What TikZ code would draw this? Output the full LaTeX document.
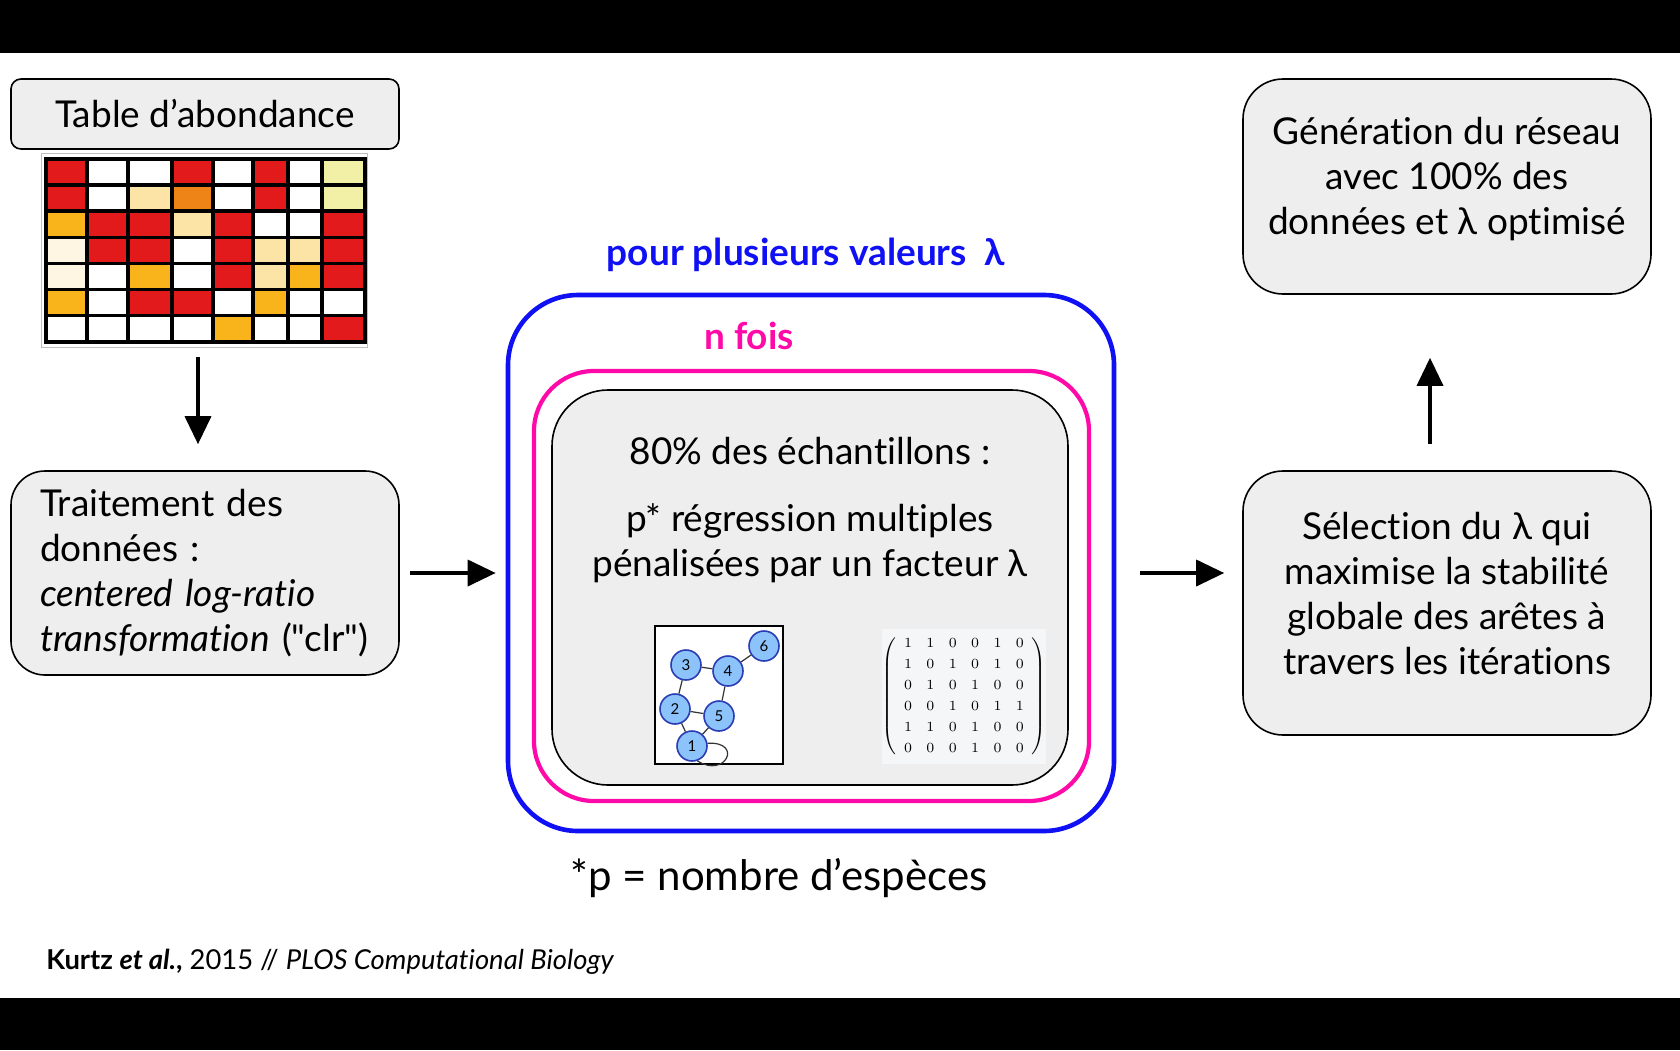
\documentclass[tikz,border=0pt]{standalone}
\usepackage{amsmath}
\usepackage[no-math]{fontspec}
\setmainfont{Lato}[Ligatures={TeXOff,NoCommon}]
\usepackage{tikz}
\usetikzlibrary{positioning}
\usetikzlibrary{arrows.meta}

\definecolor{boxgrey}{HTML}{EEEEEE}
\definecolor{loopblue}{HTML}{1010F5}
\definecolor{loopmagenta}{HTML}{FF0AA8}
\definecolor{hmr}{HTML}{E31A1C}
\definecolor{hmw}{HTML}{FFFFFF}
\definecolor{hmo}{HTML}{EE8418}
\definecolor{hmy}{HTML}{F8B41A}
\definecolor{hmp}{HTML}{FCE3A6}
\definecolor{hml}{HTML}{F2F0A6}
\definecolor{hmc}{HTML}{FEF6E2}
\definecolor{nodeblue}{HTML}{8CC3FA}
\definecolor{nodeedge}{HTML}{2B3DB5}
\definecolor{matbg}{HTML}{F5F6F8}

\begin{document}
\begin{tikzpicture}[
		x=0.5pt, y=-0.5pt,
		txt/.style={font=\fontsize{18.5}{22.5}\selectfont},
		lbl/.style={font=\fontsize{18.5}{22.5}\selectfont\bfseries},
		box/.style={txt, draw, line width=0.8pt, fill=boxgrey, align=center, inner sep=0pt},
		flow/.style={line width=1.8pt, -{Triangle[length=14pt,width=13pt]}},
		cell/.style={draw=black, line width=1.8pt},
		gnode/.style={circle, draw=nodeedge, line width=0.8pt, fill=nodeblue, minimum size=15pt, inner sep=0pt, font=\fontsize{7.5}{8}\selectfont},
		gedge/.style={line width=0.6pt, draw=black!80}
	]
	\useasboundingbox (0,0) rectangle (1680,1050);
	\fill[white] (0,0) rectangle (1680,1050);
	\fill[black] (0,0) rectangle (1680,53);
	\fill[black] (0,998) rectangle (1680,1050);

	% left column
	\node[box, rounded corners=5pt, minimum width=194pt, minimum height=35pt] (table) at (205,114) {Table d’abondance};
	\draw[black!25, fill=white] (41,153) rectangle (367,347);
	\foreach \cols [count=\i] in {
			{hmr,hmw,hmw,hmr,hmw,hmr,hmw,hml},
			{hmr,hmw,hmp,hmo,hmw,hmr,hmw,hml},
			{hmy,hmr,hmr,hmp,hmr,hmw,hmw,hmr},
			{hmc,hmr,hmr,hmw,hmr,hmp,hmp,hmr},
			{hmc,hmw,hmy,hmw,hmr,hmp,hmy,hmr},
			{hmy,hmw,hmr,hmr,hmw,hmy,hmw,hmw},
			{hmw,hmw,hmw,hmw,hmy,hmw,hmw,hmr}}
		\foreach \c [count=\j] in \cols {
			\pgfmathsetmacro\xa{{46,87,128,172,213,253,288,322,365}[\j-1]}
			\pgfmathsetmacro\xb{{46,87,128,172,213,253,288,322,365}[\j]}
			\filldraw[cell, fill=\c] (\xa,159+26.1*\i-26.1) rectangle (\xb,159+26.1*\i);
		}
	\node[minimum width=163pt, minimum height=97pt, inner sep=0pt] (heat) at (204,250) {};
	\node[box, rounded corners=17pt, minimum width=194pt, minimum height=102pt, text width=165pt, align=left] (trait) at (205,573) {Traitement des\\données :\\\textit{centered log-ratio}\\\textit{transformation} ("clr")};

	% loops
	\node[draw=loopblue, line width=2.3pt, rounded corners=35pt, minimum width=303pt, minimum height=268pt] (lamloop) at (811,563) {};
	\node[lbl, text=loopblue] (lamlbl) at (806,255) {pour plusieurs valeurs~~λ};
	\node[draw=loopmagenta, line width=2.1pt, rounded corners=30pt, minimum width=277.5pt, minimum height=215pt] (nloop) at (811.5,586) {};
	\node[lbl, text=loopmagenta] (nlbl) at (749,336) {n fois};
	\node[box, rounded corners=28pt, minimum width=258pt, minimum height=197.5pt] (sub) at (810,587.5) {};
	\node[txt] (subtitle) at (810,451) {80\% des échantillons :};
	\node[txt, align=center] (reg) at (810,543) {p* régression multiples\\pénalisées par un facteur λ};

	% graph
	\node[draw, fill=white, line width=0.9pt, minimum width=64pt, minimum height=69pt, inner sep=0pt] (graph) at (719,695) {};
	\foreach \n/\px/\py in {1/692/746, 2/675/709, 3/686/665, 4/728/671, 5/719/716, 6/764/646}
		\node[gnode] (g\n) at (\px,\py) {\n};
	\foreach \a/\b in {3/4,3/2,4/6,4/5,2/5,2/1,5/1}
		\draw[gedge] (g\a) -- (g\b);
	\draw[gedge] (g1.10) .. controls +(18pt,1pt) and +(14pt,-9pt) .. (g1.-70);

	% adjacency matrix
	\node[fill=matbg, minimum width=77.5pt, minimum height=67.5pt, inner sep=0pt, font=\fontsize{7.5}{10.5}\selectfont] (adj) at (964,696)
		{$\setlength\arraycolsep{3.6pt}\left(\begin{array}{cccccc}
			1&1&0&0&1&0\\ 1&0&1&0&1&0\\ 0&1&0&1&0&0\\
			0&0&1&0&1&1\\ 1&1&0&1&0&0\\ 0&0&0&1&0&0
		\end{array}\right)$};

	\node[font=\fontsize{21}{25}\selectfont] (note) at (779,878) {*p = nombre d’espèces};

	% right column
	\node[box, rounded corners=20pt, minimum width=204pt, minimum height=132pt,
		label={[txt, align=center, yshift=4.8pt]center:Sélection du λ qui\\maximise la stabilité\\globale des arêtes à\\travers les itérations}] (sel) at (1447,603) {};
	\node[box, rounded corners=20pt, minimum width=204pt, minimum height=107.5pt,
		label={[txt, align=center, yshift=3.8pt]center:Génération du réseau\\avec 100\% des\\données et λ optimisé}] (gen) at (1447,186.5) {};

	% arrows
	\draw[flow, shorten <=5pt, shorten >=13pt] ([xshift=-3pt]heat.south) -- ([xshift=-3pt]heat.south |- trait.north);
	\draw[flow, shorten <=5pt, shorten >=5pt] (trait.east) -- (trait.east -| lamloop.west);
	\draw[flow, shorten <=12pt, shorten >=9pt] (lamloop.east |- trait.east) -- (sel.west |- trait.east);
	\draw[flow, shorten <=13pt, shorten >=31.5pt] ([xshift=-8.5pt]sel.north) -- ([xshift=-8.5pt]sel.north |- gen.south);

	\node[anchor=west, font=\fontsize{13.7}{16}\selectfont, inner sep=0pt] (cite) at (46,962) {\textbf{Kurtz \textit{et al.},} 2015 // \textit{PLOS Computational Biology}};
\end{tikzpicture}
\end{document}
